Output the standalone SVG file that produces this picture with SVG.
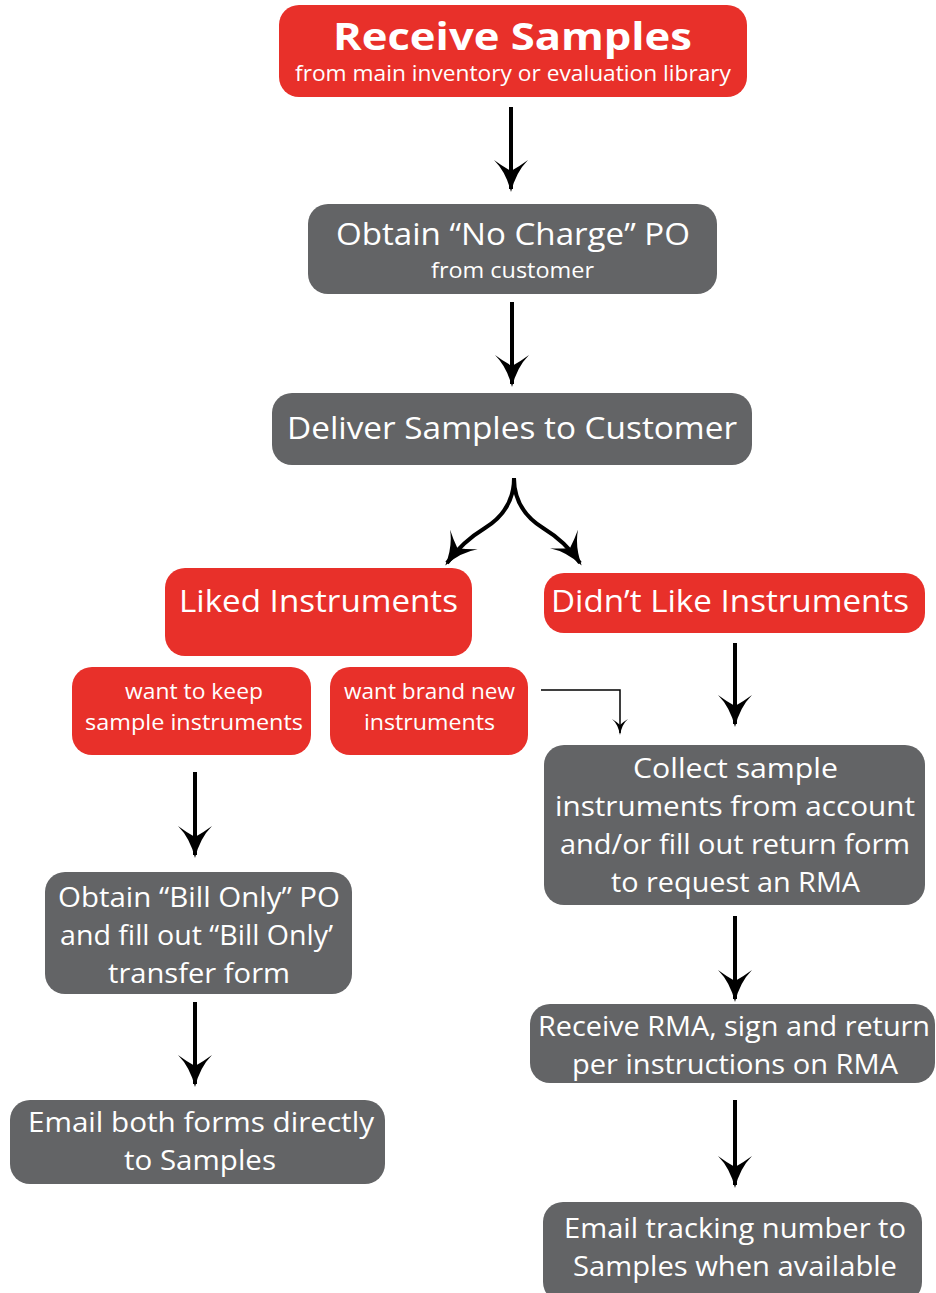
<svg xmlns="http://www.w3.org/2000/svg" width="936" height="1293" viewBox="0 0 936 1293">
<style>
.red{fill:#e8302a}
.gray{fill:#636466}
text{font-family:"Open Sans","Liberation Sans",sans-serif;fill:#fff;text-anchor:middle}
.t1{font-size:38px;font-weight:700}
.t2{font-size:31px}
.t3{font-size:21px}
.t4{font-size:28px}
.ln{stroke:#000;stroke-width:4;fill:none}
.thin{stroke:#000;stroke-width:1.5;fill:none}
</style>
<defs>
<marker id="ah" viewBox="0 0 32 34" refX="29" refY="17" markerWidth="32" markerHeight="34" markerUnits="userSpaceOnUse" orient="auto">
<path d="M0,0 Q12,12 32,17 Q12,22 0,34 Q6,26 11,17 Q6,8 0,0Z" fill="#000"/>
</marker>
<marker id="ahs" viewBox="0 0 16 16" refX="14" refY="8" markerWidth="16" markerHeight="16" markerUnits="userSpaceOnUse" orient="auto">
<path d="M0,0 Q5,6 16,8 Q5,10 0,16 Q3,11 6,8 Q3,5 0,0Z" fill="#000"/>
</marker>
</defs>
<rect width="936" height="1293" fill="#fff"/>
<g id="receive">
<rect class="red" x="279" y="5" width="468" height="92" rx="20"/>
<text class="t1" x="512.5" y="50" textLength="359" lengthAdjust="spacingAndGlyphs">Receive Samples</text>
<text class="t3" x="513" y="81" textLength="436" lengthAdjust="spacingAndGlyphs">from main inventory or evaluation library</text>
</g>
<g id="obtain-nc">
<rect class="gray" x="308" y="204" width="409" height="90" rx="20"/>
<text class="t2" x="513" y="245" textLength="354" lengthAdjust="spacingAndGlyphs">Obtain “No Charge” PO</text>
<text class="t3" x="512.5" y="278" textLength="163" lengthAdjust="spacingAndGlyphs">from customer</text>
</g>
<g id="deliver">
<rect class="gray" x="272" y="393" width="480" height="72" rx="20"/>
<text class="t2" x="512" y="439" textLength="450" lengthAdjust="spacingAndGlyphs">Deliver Samples to Customer</text>
</g>
<g id="liked">
<rect class="red" x="165" y="568" width="307" height="88" rx="20"/>
<text class="t2" x="318.5" y="612" textLength="279" lengthAdjust="spacingAndGlyphs">Liked Instruments</text>
</g>
<g id="didnt">
<rect class="red" x="544" y="573" width="381" height="60" rx="20"/>
<text class="t2" x="730" y="612" textLength="358" lengthAdjust="spacingAndGlyphs">Didn’t Like Instruments</text>
</g>
<g id="keep">
<rect class="red" x="72" y="667" width="239" height="88" rx="20"/>
<text class="t3" x="194" y="699" textLength="138" lengthAdjust="spacingAndGlyphs">want to keep</text>
<text class="t3" x="194" y="730" textLength="218" lengthAdjust="spacingAndGlyphs">sample instruments</text>
</g>
<g id="brandnew">
<rect class="red" x="330" y="667" width="198" height="88" rx="20"/>
<text class="t3" x="429.5" y="699" textLength="171" lengthAdjust="spacingAndGlyphs">want brand new</text>
<text class="t3" x="429.5" y="730" textLength="131" lengthAdjust="spacingAndGlyphs">instruments</text>
</g>
<g id="collect">
<rect class="gray" x="544" y="745" width="381" height="160" rx="20"/>
<text class="t4" x="735.5" y="778" textLength="205" lengthAdjust="spacingAndGlyphs">Collect sample</text>
<text class="t4" x="735" y="816" textLength="360" lengthAdjust="spacingAndGlyphs">instruments from account</text>
<text class="t4" x="735" y="854" textLength="350" lengthAdjust="spacingAndGlyphs">and/or fill out return form</text>
<text class="t4" x="735.5" y="892" textLength="249" lengthAdjust="spacingAndGlyphs">to request an RMA</text>
</g>
<g id="billonly">
<rect class="gray" x="45" y="872" width="307" height="122" rx="20"/>
<text class="t4" x="199" y="907" textLength="282" lengthAdjust="spacingAndGlyphs">Obtain “Bill Only” PO</text>
<text class="t4" x="196.5" y="945" textLength="273" lengthAdjust="spacingAndGlyphs">and fill out “Bill Only’</text>
<text class="t4" x="199" y="983" textLength="182" lengthAdjust="spacingAndGlyphs">transfer form</text>
</g>
<g id="emailforms">
<rect class="gray" x="10" y="1100" width="375" height="84" rx="20"/>
<text class="t4" x="201" y="1132" textLength="346" lengthAdjust="spacingAndGlyphs">Email both forms directly</text>
<text class="t4" x="200" y="1170" textLength="152" lengthAdjust="spacingAndGlyphs">to Samples</text>
</g>
<g id="rma">
<rect class="gray" x="530" y="1004" width="405" height="79" rx="20"/>
<text class="t4" x="734" y="1036" textLength="392" lengthAdjust="spacingAndGlyphs">Receive RMA, sign and return</text>
<text class="t4" x="735" y="1074" textLength="326" lengthAdjust="spacingAndGlyphs">per instructions on RMA</text>
</g>
<g id="tracking">
<rect class="gray" x="543" y="1202" width="379" height="100" rx="20"/>
<text class="t4" x="735" y="1238" textLength="342" lengthAdjust="spacingAndGlyphs">Email tracking number to</text>
<text class="t4" x="735" y="1276" textLength="324" lengthAdjust="spacingAndGlyphs">Samples when available</text>
</g>
<g id="connectors">
<line class="ln" x1="511" y1="107" x2="511" y2="189" marker-end="url(#ah)"/>
<line class="ln" x1="512" y1="302" x2="512" y2="384" marker-end="url(#ah)"/>
<path class="ln" d="M514,478 Q514,510 485,528 Q462,542 447,563" marker-end="url(#ah)"/>
<path class="ln" d="M514,478 Q514,510 543,528 Q566,542 580,563" marker-end="url(#ah)"/>
<path class="thin" d="M541,690 H620 V733" marker-end="url(#ahs)"/>
<line class="ln" x1="735" y1="643" x2="735" y2="724" marker-end="url(#ah)"/>
<line class="ln" x1="195" y1="772" x2="195" y2="855" marker-end="url(#ah)"/>
<line class="ln" x1="195" y1="1002" x2="195" y2="1084" marker-end="url(#ah)"/>
<line class="ln" x1="735" y1="916" x2="735" y2="999" marker-end="url(#ah)"/>
<line class="ln" x1="735" y1="1100" x2="735" y2="1185" marker-end="url(#ah)"/>
</g>
</svg>
